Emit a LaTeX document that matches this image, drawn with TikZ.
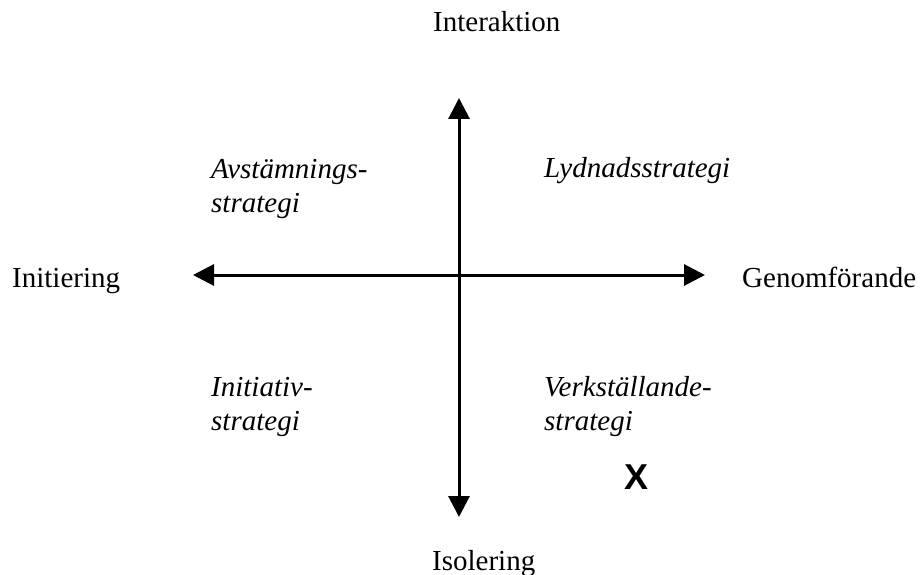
\documentclass[tikz,border=0pt]{standalone}
\usepackage{fontspec}
\setmainfont{Liberation Serif}
\newfontfamily\labelsans{Liberation Sans}
\usetikzlibrary{arrows.meta}
\begin{document}
\begin{tikzpicture}[x=1pt,y=-1pt,
  axis/.style={line width=3pt,{Triangle[width=21pt,length=21pt]}-{Triangle[width=21pt,length=21pt]}},
  axislabel/.style={inner sep=0pt,anchor=base west,font=\fontsize{29}{35}\selectfont},
  strategylabel/.style={inner sep=0pt,anchor=base west,align=left,
    font=\fontsize{29}{34}\selectfont\itshape},
  mark x/.style={inner sep=0pt,font=\fontsize{36}{36}\selectfont\labelsans\bfseries}]
  \useasboundingbox (0,0) rectangle (921,575);

  % axis end points
  \coordinate (top) at (459,98);
  \coordinate (bottom) at (459,517);
  \coordinate (left) at (193,275);
  \coordinate (right) at (705,275);

  \draw[axis] (bottom) -- (top);
  \draw[axis] (left) -- (right);

  % axis names
  \node[axislabel] (interaktion) at (433,32) {Interaktion};
  \node[axislabel] (isolering) at (432,570) {Isolering};
  \node[axislabel] (initiering) at (12,287) {Initiering};
  \node[axislabel] (genomforande) at (742,287) {Genomförande};

  % quadrants (anchored on the baseline of the last line)
  \node[strategylabel] (avst) at (211,212) {Avstämnings-\\strategi};
  \node[strategylabel] (lydn) at (544,178) {Lydnadsstrategi};
  \node[strategylabel] (init) at (211,430) {Initiativ-\\strategi};
  \node[strategylabel] (verk) at (544,430) {Verkställande-\\strategi};

  \node[mark x] (x) at (636,477) {X};
\end{tikzpicture}
\end{document}
